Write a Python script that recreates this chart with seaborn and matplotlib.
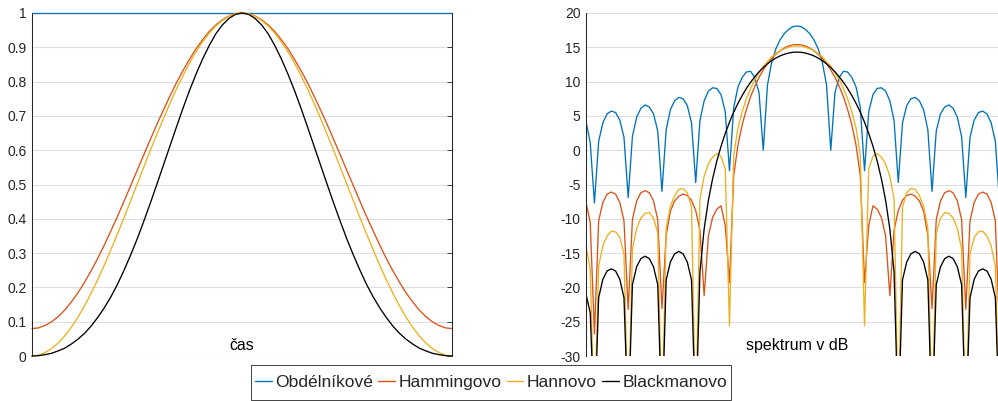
import matplotlib
matplotlib.use("Agg")
import matplotlib.pyplot as plt
import seaborn as sns
import pandas as pd
from matplotlib.patches import Rectangle
from matplotlib.lines import Line2D

# ---------------- data ----------------
series_names = ["Obdélníkové", "Hammingovo", "Hannovo", "Blackmanovo"]
series_colors = ["#0072BD", "#D95319", "#EDB120", "#000000"]

# time domain, 65 samples across the window
time_idx = list(range(65))
time_rect = [1.0] * 65
time_hamming = [0.080, 0.082, 0.089, 0.100, 0.115, 0.134, 0.158, 0.184, 0.215, 0.248, 0.284,
                0.323, 0.364, 0.406, 0.450, 0.495, 0.540, 0.585, 0.630, 0.674, 0.716, 0.757,
                0.796, 0.832, 0.865, 0.896, 0.922, 0.946, 0.965, 0.980, 0.991, 0.998, 1.000,
                0.998, 0.991, 0.980, 0.965, 0.946, 0.922, 0.896, 0.865, 0.832, 0.796, 0.757,
                0.716, 0.674, 0.630, 0.585, 0.540, 0.495, 0.450, 0.406, 0.364, 0.323, 0.284,
                0.248, 0.215, 0.184, 0.158, 0.134, 0.115, 0.100, 0.089, 0.082, 0.080]
time_hann = [0.000, 0.002, 0.010, 0.022, 0.038, 0.059, 0.084, 0.113, 0.146, 0.183, 0.222,
             0.264, 0.309, 0.355, 0.402, 0.451, 0.500, 0.549, 0.598, 0.645, 0.691, 0.736,
             0.778, 0.817, 0.854, 0.887, 0.916, 0.941, 0.962, 0.978, 0.990, 0.998, 1.000,
             0.998, 0.990, 0.978, 0.962, 0.941, 0.916, 0.887, 0.854, 0.817, 0.778, 0.736,
             0.691, 0.645, 0.598, 0.549, 0.500, 0.451, 0.402, 0.355, 0.309, 0.264, 0.222,
             0.183, 0.146, 0.113, 0.084, 0.059, 0.038, 0.022, 0.010, 0.002, 0.000]
time_blackman = [0.000, 0.001, 0.004, 0.008, 0.015, 0.023, 0.035, 0.049, 0.066, 0.087, 0.112,
                 0.140, 0.172, 0.208, 0.249, 0.293, 0.340, 0.391, 0.444, 0.499, 0.555, 0.611,
                 0.667, 0.722, 0.774, 0.822, 0.866, 0.905, 0.939, 0.965, 0.984, 0.996, 1.000,
                 0.996, 0.984, 0.965, 0.939, 0.905, 0.866, 0.822, 0.774, 0.722, 0.667, 0.611,
                 0.555, 0.499, 0.444, 0.391, 0.340, 0.293, 0.249, 0.208, 0.172, 0.140, 0.112,
                 0.087, 0.066, 0.049, 0.035, 0.023, 0.015, 0.008, 0.004, 0.001, 0.000]

# spectrum in dB, frequency index in 1/8-bin steps (-50 .. 50)
freq_idx = list(range(-50, 51))
spec_rect = [4.2, 1.1, -7.7, 1.3, 4.0, 5.3, 5.7, 5.5, 4.4, 1.9,
             -6.9, 2.0, 4.8, 6.1, 6.6, 6.3, 5.3, 2.8, -6.0, 3.0,
             5.9, 7.2, 7.7, 7.5, 6.5, 4.0, -4.7, 4.3, 7.2, 8.6,
             9.1, 9.0, 8.1, 5.6, -3.0, 6.2, 9.2, 10.6, 11.4, 11.5,
             10.6, 8.4, 0.0, 9.5, 12.8, 14.8, 16.1, 17.0, 17.6, 18.0,
             18.1,
             18.0, 17.6, 17.0, 16.1, 14.8, 12.8, 9.5, 0.0, 8.4, 10.6,
             11.5, 11.4, 10.6, 9.2, 6.2, -3.0, 5.6, 8.1, 9.0, 9.1,
             8.6, 7.2, 4.3, -4.7, 4.0, 6.5, 7.5, 7.7, 7.2, 5.9,
             3.0, -6.0, 2.8, 5.3, 6.3, 6.6, 6.1, 4.8, 2.0, -6.9,
             1.9, 4.4, 5.5, 5.7, 5.3, 4.0, 1.3, -7.7, 1.1, 3.7]
spec_hamming = [-7.6, -10.5, -26.8, -10.3, -7.6, -6.4, -6.1, -6.4, -7.6, -10.3,
                -23.2, -10.1, -7.4, -6.2, -5.9, -6.2, -7.4, -10.1, -23.1, -12.4,
                -8.9, -7.4, -6.7, -6.4, -6.6, -7.3, -8.8, -11.7, -21.2, -12.5,
                -9.8, -8.6, -8.1, -11.0, -19.3, -3.7, 0.7, 3.7, 5.9, 7.8,
                9.3, 10.6, 11.7, 12.6, 13.4, 14.0, 14.5, 14.9, 15.2, 15.35,
                15.4,
                15.35, 15.2, 14.9, 14.5, 14.0, 13.4, 12.6, 11.7, 10.6, 9.3,
                7.8, 5.9, 3.7, 0.7, -3.7, -19.3, -11.0, -8.1, -8.6, -9.8,
                -12.5, -21.2, -11.7, -8.8, -7.3, -6.6, -6.4, -6.7, -7.4, -8.9,
                -12.4, -23.1, -10.1, -7.4, -6.2, -5.9, -6.2, -7.4, -10.1, -23.2,
                -10.3, -7.6, -6.4, -6.1, -6.4, -7.6, -10.3, -26.8, -10.5, -7.8]
spec_hann = [-14.0, -17.4, -40.0, -16.9, -13.9, -12.5, -11.8, -11.9, -12.7, -15.1,
             -40.0, -14.4, -11.4, -9.9, -9.2, -9.1, -9.9, -12.1, -40.0, -11.3,
             -8.2, -6.6, -5.7, -5.6, -6.2, -8.3, -40.0, -7.1, -3.8, -2.0,
             -1.0, -0.5, -0.9, -2.7, -25.6, -0.7, 3.2, 5.6, 7.5, 9.0,
             10.3, 11.3, 12.2, 12.9, 13.6, 14.1, 14.5, 14.8, 15.0, 15.2,
             15.2,
             15.2, 15.0, 14.8, 14.5, 14.1, 13.6, 12.9, 12.2, 11.3, 10.3,
             9.0, 7.5, 5.6, 3.2, -0.7, -25.6, -2.7, -0.9, -0.5, -1.0,
             -2.0, -3.8, -7.1, -40.0, -8.3, -6.2, -5.6, -5.7, -6.6, -8.2,
             -11.3, -40.0, -12.1, -9.9, -9.1, -9.2, -9.9, -11.4, -14.4, -40.0,
             -15.1, -12.7, -11.9, -11.8, -12.5, -13.9, -16.9, -40.0, -17.4, -15.0]
spec_blackman = [-21.0, -23.7, -40.0, -21.5, -18.8, -17.6, -17.3, -17.6, -18.8, -21.5,
                 -40.0, -19.6, -17.0, -15.8, -15.45, -15.8, -17.0, -19.6, -40.0, -18.9,
                 -16.3, -15.1, -14.75, -15.1, -16.3, -18.9, -40.0, -17.74, -11.46, -7.32,
                 -4.16, -1.59, 0.58, 2.45, 4.09, 5.54, 6.82, 7.97, 8.99, 9.9,
                 10.71, 11.42, 12.05, 12.59, 13.05, 13.44, 13.75, 13.99, 14.16, 14.27,
                 14.3,
                 14.27, 14.16, 13.99, 13.75, 13.44, 13.05, 12.59, 12.05, 11.42, 10.71,
                 9.9, 8.99, 7.97, 6.82, 5.54, 4.09, 2.45, 0.58, -1.59, -4.16,
                 -7.32, -11.46, -17.74, -40.0, -18.9, -16.3, -15.1, -14.75, -15.1, -16.3,
                 -18.9, -40.0, -19.6, -17.0, -15.8, -15.45, -15.8, -17.0, -19.6, -40.0,
                 -21.5, -18.8, -17.6, -17.3, -17.6, -18.8, -21.5, -40.0, -23.7, -21.0]

left_ticks = [0, 0.1, 0.2, 0.3, 0.4, 0.5, 0.6, 0.7, 0.8, 0.9, 1]
left_ticklabels = ["0", "0.1", "0.2", "0.3", "0.4", "0.5", "0.6", "0.7", "0.8", "0.9", "1"]
right_ticks = [-30, -25, -20, -15, -10, -5, 0, 5, 10, 15, 20]
right_ticklabels = ["-30", "-25", "-20", "-15", "-10", "-5", "0", "5", "10", "15", "20"]

# ---------------- style ----------------
sns.set_theme(style="white")
plt.rcParams["font.family"] = ["Liberation Sans", "DejaVu Sans"]
plt.rcParams["axes.unicode_minus"] = False

W, H = 998, 401
fig = plt.figure(figsize=(W / 100, H / 100), dpi=100)
fig.patch.set_facecolor("white")

ax1 = fig.add_axes([32 / W, 45 / H, 420 / W, 343 / H])
ax2 = fig.add_axes([586 / W, 45 / H, 422 / W, 343 / H])

time_series = [time_rect, time_hamming, time_hann, time_blackman]
spec_series = [spec_rect, spec_hamming, spec_hann, spec_blackman]

for name, color, ts in zip(series_names, series_colors, time_series):
    df = pd.DataFrame({"n": time_idx, "w": ts})
    sns.lineplot(data=df, x="n", y="w", ax=ax1, color=color, linewidth=0.95,
                 estimator=None, sort=False, legend=False, clip_on=False)

for name, color, sp in zip(series_names, series_colors, spec_series):
    df = pd.DataFrame({"f": freq_idx, "db": sp})
    sns.lineplot(data=df, x="f", y="db", ax=ax2, color=color, linewidth=0.95,
                 estimator=None, sort=False, legend=False)

ax1.set_xlim(0, 64)
ax1.set_ylim(0, 1)
ax2.set_xlim(-50, 50)
ax2.set_ylim(-30, 20)

ax1.set_yticks(left_ticks)
ax1.set_yticklabels(left_ticklabels)
ax2.set_yticks(right_ticks)
ax2.set_yticklabels(right_ticklabels)

axis_col = "#262626"
for ax in (ax1, ax2):
    ax.set_xticks([])
    ax.set_xlabel("")
    ax.set_ylabel("")
    ax.set_facecolor("white")
    ax.yaxis.grid(True, color="#dfdfdf", linewidth=0.8)
    ax.xaxis.grid(False)
    ax.set_axisbelow(True)
    ax.spines["top"].set_visible(False)
    ax.spines["bottom"].set_visible(False)
    ax.spines["left"].set_color(axis_col)
    ax.spines["left"].set_linewidth(0.75)
    ax.tick_params(axis="y", direction="in", length=3.5, width=0.6, color=axis_col,
                   labelcolor=axis_col, labelsize=10, pad=4)

ax1.spines["right"].set_visible(True)
ax1.spines["right"].set_color(axis_col)
ax1.spines["right"].set_linewidth(0.75)
ax1.tick_params(axis="y", right=True, labelright=False)
ax2.spines["right"].set_visible(False)

ax1.text(0.5, 0.018, "čas", transform=ax1.transAxes, ha="center", va="baseline",
         fontsize=11.5, color="black")
ax2.text(0.5, 0.018, "spektrum v dB", transform=ax2.transAxes, ha="center", va="baseline",
         fontsize=11.5, color="black")

# legend with a thin box below the axes
handles = [Line2D([0], [0], color=c, linewidth=1.0) for c in series_colors]
fig.legend(handles, series_names, loc="center", bbox_to_anchor=(491 / W, 1 - 382.5 / H),
           ncol=4, frameon=False, fontsize=12.6, handlelength=0.95, handletextpad=0.2,
           columnspacing=0.3, borderpad=0.0, borderaxespad=0.0)
fig.add_artist(Rectangle((251 / W, 1 - 400 / H), 480 / W, 35 / H, transform=fig.transFigure,
                         fill=False, edgecolor=axis_col, linewidth=0.6))

fig.savefig("out.png", dpi=100, facecolor="white")
